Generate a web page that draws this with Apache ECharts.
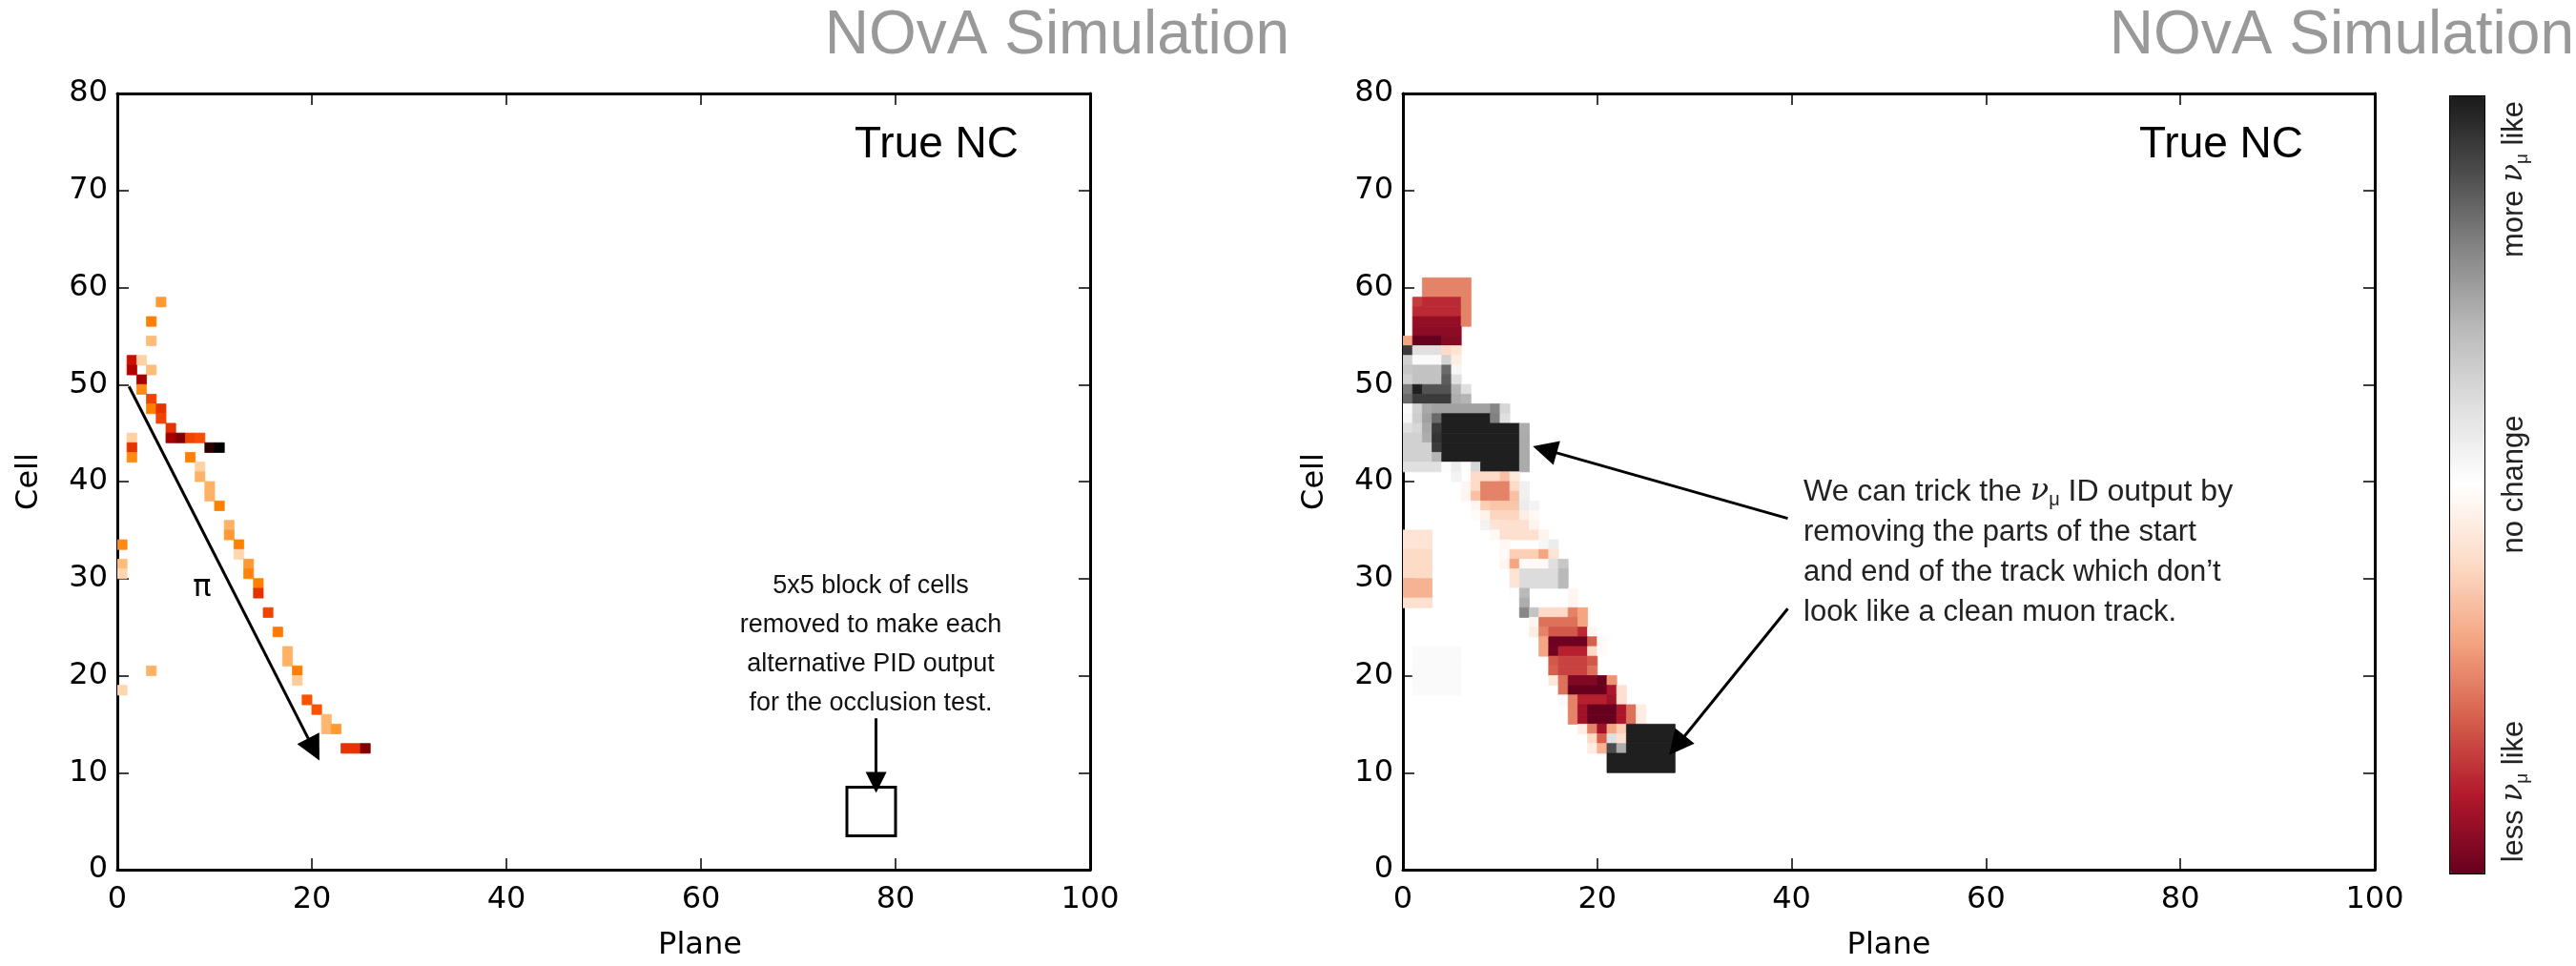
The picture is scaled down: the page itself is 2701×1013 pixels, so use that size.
<!DOCTYPE html>
<html><head><meta charset="utf-8">
<script src="https://cdn.jsdelivr.net/npm/echarts@6/dist/echarts.min.js"></script>
<style>html,body{margin:0;padding:0;background:#fff}#c{width:2701px;height:1013px}</style>
</head><body><div id="c"></div>
<script>
// ---------- DATA ----------
const planeTicks = [0, 20, 40, 60, 80, 100];
const cellTicks = [0, 10, 20, 30, 40, 50, 60, 70, 80];

// left panel: recorded hits (plane, cell, relative charge 0..1)
const hitPlane = [4,3,3,1,2,1,3,2,2,3, 3,4,4,5,5,6,7,8,9,10, 1,1,1,7,8,8,9,9,10,11, 11,12,12,13,13,14,14,15,16,17, 17,18,18,19,20,21,21,22,23,24, 25,0,0,0,3,0];
const hitCell  = [58,56,54,52,52,51,51,50,49,48, 47,47,46,45,44,44,44,44,43,43, 44,43,42,42,41,40,39,38,37,35, 34,33,32,31,30,29,28,26,24,22, 21,20,19,17,16,15,14,14,12,12, 12,33,31,30,20,18];
const hitCharge= [.2,.25,.13,.47,.09,.53,.13,.57,.23,.37, .25,.4,.37,.4,.57,.67,.37,.35,.89,1, .09,.4,.23,.25,.09,.15,.15,.15,.25,.15, .2,.25,.08,.2,.24,.25,.4,.37,.26,.15, .15,.25,.1,.34,.34,.14,.14,.2,.4,.4, .67,.23,.13,.08,.15,.08];

// right panel: occlusion response, runs of [cell, firstPlane, lastPlane, change in numu score -1..1]
const occStartRuns = [
 [60,2,6,-0.5],[59,2,6,-0.5],
 [58,1,1,-0.7],[58,2,5,-0.75],[58,6,6,-0.5],
 [57,1,5,-0.75],[57,6,6,-0.5],
 [56,1,5,-0.88],[56,6,6,-0.5],
 [55,1,5,-0.9],
 [54,0,0,-0.4],[54,1,3,-1],[54,4,5,-0.92],
 [53,0,0,0.87],[53,1,3,0.2],[53,4,4,-0.2],[53,5,5,-0.15],
 [52,0,0,0.28],[52,1,3,0.03],[52,4,4,0.27],[52,5,5,-0.1],
 [51,0,0,0.33],[51,1,3,0.36],[51,4,4,0.7],[51,5,5,0.05],
 [50,0,0,0.28],[50,1,3,0.36],[50,4,4,0.75],[50,5,5,0.2],
 [49,0,0,0.63],[49,1,1,0.98],[49,2,4,0.78],[49,5,5,0.42],[49,6,6,0.2],
 [48,0,0,0.7],[48,1,4,0.87],[48,5,5,0.45],[48,6,6,0.42],
 [47,0,0,0.03],[47,1,1,0.28],[47,2,2,0.47],[47,3,8,0.5],[47,9,9,0.6],[47,10,10,0.25],
 [46,0,0,0.06],[46,1,1,0.3],[46,2,2,0.5],[46,3,3,0.7],[46,4,8,0.98],[46,9,9,0.62],[46,10,10,0.2],
 [45,0,0,0.2],[45,1,1,0.25],[45,2,2,0.47],[45,3,3,0.87],[45,4,11,0.98],[45,12,12,0.45],
 [44,0,1,0.28],[44,2,2,0.45],[44,3,3,0.9],[44,4,11,0.98],[44,12,12,0.46],
 [43,0,2,0.28],[43,3,3,0.87],[43,4,11,0.98],[43,12,12,0.46],
 [42,0,2,0.28],[42,3,3,0.42],[42,4,11,0.98],[42,12,12,0.46],
 [41,0,3,0.2],[41,4,4,0.02],[41,5,5,0.12],[41,6,6,0.02],[41,7,7,0.25],[41,8,11,0.98],[41,12,12,0.46]
];
const occMiddleRuns = [
 [40,5,5,0.08],[40,7,9,-0.2],[40,10,10,-0.3],[40,11,11,-0.12],
 [39,6,6,-0.05],[39,7,7,-0.2],[39,8,10,-0.5],[39,11,11,-0.2],[39,12,12,0.1],
 [38,6,6,-0.05],[38,7,7,-0.3],[38,8,10,-0.5],[38,11,11,-0.3],[38,12,12,0.1],
 [37,7,7,-0.05],[37,8,8,-0.25],[37,9,11,-0.28],[37,12,12,0.12],[37,13,13,0.08],
 [36,7,7,-0.02],[36,8,8,-0.07],[36,9,11,-0.22],[36,12,12,-0.1],[36,13,13,-0.04],
 [35,8,8,0.08],[35,9,9,-0.15],[35,10,12,-0.17],[35,13,13,-0.06],
 [34,0,2,-0.15],[34,9,9,-0.04],[34,10,13,-0.17],[34,14,14,-0.06],
 [33,0,2,-0.15],[33,10,10,-0.04],[33,14,14,0.05],[33,15,15,0.12],
 [32,0,2,-0.2],[32,10,10,-0.03],[32,11,13,-0.25],[32,14,14,-0.4],[32,15,15,-0.15],
 [31,0,2,-0.2],[31,10,10,-0.05],[31,11,11,-0.4],[31,12,14,-0.03],[31,15,15,0.2],[31,16,16,0.33],
 [30,0,2,-0.2],[30,11,11,-0.15],[30,12,15,0.22],[30,16,16,0.4],
 [29,0,2,-0.35],[29,11,11,-0.15],[29,12,15,0.22],[29,16,16,0.4],
 [28,0,2,-0.35],[28,11,11,0.01],[28,12,12,0.4],[28,17,17,-0.05],
 [27,0,2,-0.17],[27,12,12,0.45],[27,17,17,-0.05]
];
const occEndRuns = [
 [26,12,12,0.6],[26,13,13,0.35],[26,14,16,-0.2],[26,17,17,-0.5],[26,18,18,-0.4],
 [25,13,13,-0.05],[25,14,17,-0.55],[25,18,18,-0.4],
 [24,13,13,-0.1],[24,14,14,-0.5],[24,15,17,-0.62],[24,18,18,-0.75],[24,19,19,-0.05],
 [23,14,14,-0.4],[23,15,18,-0.98],[23,19,19,-0.6],[23,20,20,-0.03],
 [22,1,5,0.03],[22,14,14,-0.4],[22,15,15,-0.97],[22,16,18,-0.78],[22,19,19,-0.2],[22,20,20,-0.02],
 [21,1,5,0.03],[21,15,15,-0.62],[21,16,18,-0.68],[21,19,19,-0.62],
 [20,1,5,0.03],[20,15,15,-0.6],[20,16,18,-0.68],[20,19,19,-0.55],
 [19,1,5,0.03],[19,15,15,-0.13],[19,16,16,-0.55],[19,17,19,-0.93],[19,20,20,-1],[19,21,21,-0.45],
 [18,1,5,0.03],[18,16,16,-0.55],[18,17,20,-1],[18,21,21,-0.82],[18,22,22,-0.17],
 [17,16,16,0.03],[17,17,17,-0.5],[17,18,20,-0.78],[17,21,21,-0.85],[17,22,22,-0.17],
 [16,17,17,-0.5],[16,18,18,-0.85],[16,19,21,-1],[16,22,22,-0.82],[16,23,23,-0.55],[16,24,24,-0.1],
 [15,17,17,-0.5],[15,18,18,-0.85],[15,19,21,-1],[15,22,22,-0.82],[15,23,23,-0.55],[15,24,24,-0.1],
 [14,18,18,-0.1],[14,19,19,-0.5],[14,20,20,-0.85],[14,21,21,-0.4],[14,22,22,-0.25],[14,23,27,0.98],
 [13,19,19,-0.2],[13,20,20,-0.6],[13,21,21,0.2],[13,22,22,-0.17],[13,23,27,0.98],
 [12,19,19,-0.1],[12,20,20,-0.35],[12,21,21,0.8],[12,22,22,0.45],[12,23,27,0.98],
 [11,21,27,0.98],[10,21,27,0.98]
];

// annotation anchors (data units)
const pionArrow = [[1.2, 49.8], [20.2, 12.4]];
const blockArrow = [[78, 15.6], [78, 9.0]];
const occludedBlock = [75, 80, 3.5, 8.5];
const startArrow = [[39.6, 36.2], [14.6, 43.3]];
const endArrow = [[39.6, 26.9], [28.2, 12.8]];

// ---------- CHART ----------
const gistHeatR = ['#ffffff','#ffd4aa','#ffaa55','#ff8000','#ff5500','#df2b00','#bf0000','#9f0000','#800000','#600000','#400000','#200000','#000000'];
const rdGyR = ['#67001f','#b2182b','#d6604d','#f4a582','#fddbc7','#ffffff','#e0e0e0','#bababa','#878787','#4d4d4d','#1a1a1a'];

const hitData = hitPlane.map((p, i) => [p, p, hitCell[i], hitCharge[i]]);
const occData = [].concat(occStartRuns, occMiddleRuns, occEndRuns).map(r => [r[1], r[2], r[0], r[3]]);

function cellRect(params, api) {
  const a = api.coord([api.value(0), api.value(2) + 1]);
  const b = api.coord([api.value(1) + 1, api.value(2)]);
  const col = api.visual('color');
  return {type: 'rect', shape: {x: a[0], y: a[1], width: b[0] - a[0], height: b[1] - a[1]},
          style: {fill: col, stroke: col, lineWidth: 0.8}};
}

const grids = [
  {left: 123, top: 98, width: 1020, height: 818},
  {left: 1471, top: 98, width: 1019, height: 818}
];
const tickFont = {color: '#000', fontFamily: 'DejaVu Sans', fontSize: 32};
function xAx(g, top, namePad) {
  return {type: 'value', gridIndex: g, min: 0, max: 100, interval: 20, position: top ? 'top' : 'bottom',
    splitLine: {show: false},
    axisLine: {show: true, onZero: false, lineStyle: {color: '#000', width: 3}},
    axisTick: {show: true, inside: true, length: 12, lineStyle: {color: '#000', width: 1.5}},
    axisLabel: Object.assign({show: !top, margin: 16}, tickFont),
    name: top ? '' : 'Plane', nameLocation: 'middle', nameGap: 64,
    nameTextStyle: {color: '#000', fontFamily: 'DejaVu Sans', fontSize: 32, padding: [0, 0, 0, namePad || 0]}};
}
function yAx(g, right) {
  return {type: 'value', gridIndex: g, min: 0, max: 80, interval: 10, position: right ? 'right' : 'left',
    splitLine: {show: false},
    axisLine: {show: true, onZero: false, lineStyle: {color: '#000', width: 3}},
    axisTick: {show: true, inside: true, length: 12, lineStyle: {color: '#000', width: 1.5}},
    axisLabel: Object.assign({show: !right, margin: 10}, tickFont),
    name: right ? '' : 'Cell', nameLocation: 'middle', nameGap: 76, nameRotate: 90,
    nameTextStyle: {color: '#000', fontFamily: 'DejaVu Sans', fontSize: 32}};
}
function arrowSeries(xi, coords, size) {
  return {type: 'lines', coordinateSystem: 'cartesian2d', xAxisIndex: xi, yAxisIndex: xi,
    symbol: ['none', 'triangle'], symbolSize: size, silent: true, z: 10,
    lineStyle: {color: '#000', width: 3, opacity: 1, curveness: 0},
    itemStyle: {color: '#000'},
    data: [{coords: coords}]};
}

const helv = '"Liberation Sans", Arial, sans-serif';
function numuRich(size) {
  return {
    a: {fontFamily: helv, fontSize: size, color: '#222', lineHeight: 36},
    nu: {fontFamily: 'DejaVu Serif', fontStyle: 'italic', fontSize: size, color: '#222', lineHeight: 36},
    s: {fontFamily: helv, fontSize: Math.round(size * 0.62), color: '#222', lineHeight: 22, verticalAlign: 'bottom'}
  };
}
function richText(x, y, text, size, rot) {
  return {type: 'text', x: x, y: y, rotation: rot || 0,
    style: {text: text, rich: numuRich(size), fontFamily: helv, fontSize: size, fill: '#222',
            align: rot ? 'center' : 'left', verticalAlign: 'middle'}};
}

const option = {
  backgroundColor: '#fff',
  animation: false,
  grid: grids,
  xAxis: [xAx(0, false, 202), xAx(0, true), xAx(1, false), xAx(1, true)],
  yAxis: [yAx(0, false), yAx(0, true), yAx(1, false), yAx(1, true)],
  visualMap: [
    {type: 'continuous', show: false, seriesIndex: 0, dimension: 3, min: 0, max: 1, inRange: {color: gistHeatR}},
    {type: 'continuous', show: true, seriesIndex: 1, dimension: 3, min: -1, max: 1,
     inRange: {color: rdGyR}, orient: 'vertical', left: 2568, top: 100, itemWidth: 36, itemHeight: 815,
     text: null, showLabel: false, calculable: false, hoverLink: false, padding: 0,
     borderColor: '#000', borderWidth: 2}
  ],
  series: [
    {type: 'custom', xAxisIndex: 0, yAxisIndex: 0, renderItem: cellRect, data: hitData,
     encode: {x: [0, 1], y: 2}, clip: true, silent: true},
    {type: 'custom', xAxisIndex: 2, yAxisIndex: 2, renderItem: cellRect, data: occData,
     encode: {x: [0, 1], y: 2}, clip: true, silent: true},
    arrowSeries(0, pionArrow, 26),
    arrowSeries(0, blockArrow, 22),
    arrowSeries(2, startArrow, 26),
    arrowSeries(2, endArrow, 26),
    {type: 'custom', xAxisIndex: 0, yAxisIndex: 0, data: [occludedBlock], silent: true, z: 10,
     renderItem: function (params, api) {
       const a = api.coord([api.value(0), api.value(3)]);
       const b = api.coord([api.value(1), api.value(2)]);
       return {type: 'rect', shape: {x: a[0], y: a[1], width: b[0] - a[0], height: b[1] - a[1]},
               style: {fill: 'none', stroke: '#000', lineWidth: 3}};
     }}
  ],
  graphic: [
    {type: 'text', x: 1352, y: 38, style: {text: 'NOvA Simulation', font: '64px ' + helv, fill: '#999999', align: 'right', verticalAlign: 'middle'}},
    {type: 'text', x: 2699, y: 38, style: {text: 'NOvA Simulation', font: '64px ' + helv, fill: '#999999', align: 'right', verticalAlign: 'middle'}},
    {type: 'text', x: 982, y: 152, style: {text: 'True NC', font: '46px ' + helv, fill: '#000', align: 'center', verticalAlign: 'middle'}},
    {type: 'text', x: 2329, y: 152, style: {text: 'True NC', font: '46px ' + helv, fill: '#000', align: 'center', verticalAlign: 'middle'}},
    {type: 'text', x: 212, y: 617, style: {text: 'π', font: '32px "DejaVu Sans"', fill: '#000', align: 'center', verticalAlign: 'middle'}},
    {type: 'text', x: 913, y: 676, style: {text: '5x5 block of cells\nremoved to make each\nalternative PID output\nfor the occlusion test.', font: '27px ' + helv, fill: '#111', align: 'center', verticalAlign: 'middle', lineHeight: 41}},
    richText(1891, 516, '{a|We can trick the }{nu|ν}{s|μ}{a| ID output by}', 32),
    {type: 'text', x: 1891, y: 600, style: {text: 'removing the parts of the start\nand end of the track which don’t\nlook like a clean muon track.', font: '31px ' + helv, fill: '#222', align: 'left', verticalAlign: 'middle', lineHeight: 42}},
    richText(2636, 188, '{a|more }{nu|ν}{s|μ}{a| like}', 31, Math.PI / 2),
    {type: 'text', x: 2636, y: 508, rotation: Math.PI / 2, style: {text: 'no change', font: '31px ' + helv, fill: '#222', align: 'center', verticalAlign: 'middle'}},
    richText(2636, 830, '{a|less }{nu|ν}{s|μ}{a| like}', 31, Math.PI / 2)
  ]
};
const chart = echarts.init(document.getElementById('c'), null, {renderer: 'canvas'});
chart.setOption(option);
</script></body></html>
